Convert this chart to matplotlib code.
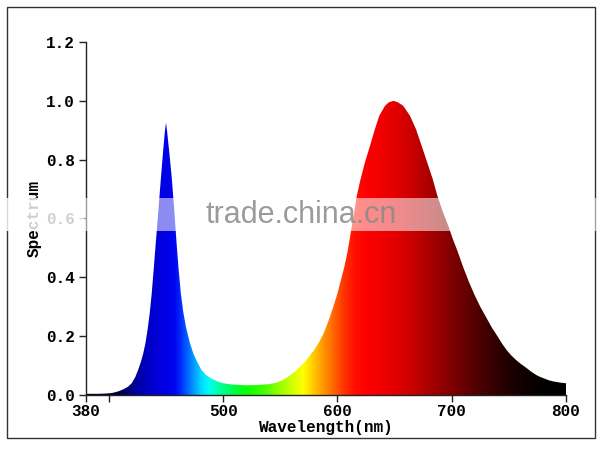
import numpy as np
import matplotlib
matplotlib.use("Agg")
import matplotlib.pyplot as plt
from matplotlib.colors import LinearSegmentedColormap
from matplotlib.patches import Polygon, Rectangle

# ---------------- data ----------------
wavelength = [380, 390, 398, 403, 408, 412, 416.7, 420, 423, 425.6, 428, 430, 432,
              434, 435.8, 437.5, 439.3, 441, 443.3, 445.6, 447.5, 449, 450, 451,
              453, 455, 457.2, 459.3, 461.2, 463, 465, 467.5, 471, 474, 477, 481,
              485, 490, 495, 500, 505, 510, 520, 530, 540, 546, 552, 558, 563,
              567, 572, 576, 580, 584, 588, 592, 596, 600, 603, 606, 609, 612,
              615, 617, 620, 624, 628.5, 632.8, 636.6, 641.6, 645, 649, 653,
              657.6, 663.5, 668.7, 673.7, 678.6, 683.3, 687.4, 692, 697, 701,
              705, 710, 715, 720, 725, 730, 735, 740, 744, 748, 752, 756, 760,
              764, 770, 774, 777, 781, 785, 789, 795, 800]
spectrum = [0.004, 0.004, 0.005, 0.007, 0.012, 0.018, 0.028, 0.040, 0.060, 0.085,
            0.112, 0.140, 0.176, 0.225, 0.28, 0.345, 0.43, 0.514, 0.625, 0.74,
            0.83, 0.895, 0.926, 0.895, 0.82, 0.74, 0.63, 0.514, 0.42, 0.345,
            0.285, 0.23, 0.176, 0.14, 0.115, 0.085, 0.068, 0.055, 0.046, 0.040,
            0.037, 0.035, 0.033, 0.034, 0.037, 0.041, 0.050, 0.065, 0.080,
            0.096, 0.115, 0.135, 0.155, 0.18, 0.21, 0.25, 0.295, 0.345, 0.39,
            0.435, 0.49, 0.56, 0.63, 0.678, 0.73, 0.79, 0.847, 0.904, 0.949,
            0.983, 0.995, 1.0, 0.995, 0.983, 0.949, 0.904, 0.847, 0.79, 0.735,
            0.678, 0.625, 0.575, 0.53, 0.49, 0.435, 0.385, 0.34, 0.30, 0.265,
            0.23, 0.20, 0.175, 0.153, 0.135, 0.12, 0.107, 0.096, 0.078, 0.068,
            0.062, 0.056, 0.050, 0.046, 0.042, 0.040]
xticks = [380, 400, 500, 600, 700, 800]
xticklabels = ["380", "", "500", "600", "700", "800"]
yticks = [0.0, 0.2, 0.4, 0.6, 0.8, 1.0, 1.2]
yticklabels = ["0.0", "0.2", "0.4", "0.6", "0.8", "1.0", "1.2"]
xlabel = "Wavelength(nm)"
ylabel = "Spectrum"
watermark = "trade.china.cn"

# ---------------- style: wavelength colour stops ----------------
color_stops = [
    (380, "#000010"), (400, "#000030"), (410, "#000050"), (420, "#000088"),
    (430, "#0000b8"), (440, "#0000d4"), (450, "#0000e6"), (458, "#0008f2"),
    (463, "#0030ff"), (468, "#0060ff"), (473, "#0090ff"), (478, "#00c0ff"),
    (483, "#00e8ff"), (488, "#00ffee"), (495, "#00ffb0"), (503, "#00ff70"),
    (512, "#00ff30"), (522, "#10ff00"), (535, "#40ff00"), (548, "#90ff00"),
    (560, "#d0ff00"), (570, "#ffff00"), (578, "#ffd000"), (586, "#ffa000"),
    (595, "#ff7000"), (605, "#ff3800"), (615, "#ff1000"), (625, "#ff0000"),
    (640, "#f00000"), (655, "#dd0000"), (670, "#c00000"), (685, "#a00000"),
    (700, "#800000"), (715, "#600000"), (730, "#420000"), (745, "#280000"),
    (760, "#140000"), (775, "#060000"), (790, "#000000"), (800, "#000000"),
]

plt.rcParams["font.family"] = ["Liberation Mono", "DejaVu Sans Mono"]
plt.rcParams["font.weight"] = "bold"

W, H = 602, 450
fig = plt.figure(figsize=(W / 100, H / 100), dpi=100)
fig.patch.set_facecolor("white")
ax = fig.add_axes([86 / W, 55 / H, (566 - 86) / W, (395 - 42) / H])

x0, x1 = 380, 800
cmap = LinearSegmentedColormap.from_list(
    "spec", [((w - x0) / (x1 - x0), c) for w, c in color_stops], N=512)

verts = np.column_stack([np.r_[wavelength[0], wavelength, wavelength[-1]],
                         np.r_[0, spectrum, 0]])
poly = Polygon(verts, closed=True, facecolor="none", edgecolor="none",
               transform=ax.transData)
ax.add_patch(poly)
grad = np.linspace(0, 1, 840).reshape(1, -1)
im = ax.imshow(grad, cmap=cmap, extent=[x0, x1, 0, 1.2], aspect="auto",
               origin="lower", interpolation="bilinear", zorder=1)
im.set_clip_path(poly)

ax.set_xlim(x0, x1)
ax.set_ylim(0, 1.2)
ax.set_xticks(xticks)
ax.set_xticklabels(xticklabels)
ax.set_yticks(yticks)
ax.set_yticklabels(yticklabels)
for s in ["top", "right"]:
    ax.spines[s].set_visible(False)
for s in ["left", "bottom"]:
    ax.spines[s].set_color("#222222")
    ax.spines[s].set_linewidth(1.0)
ax.tick_params(direction="out", length=5, width=1, color="#222222",
               labelsize=11.5, labelcolor="black")
ax.tick_params(axis="x", pad=1.5)
ax.tick_params(axis="y", pad=3)
ax.set_xlabel(xlabel, fontsize=11.5, fontweight="bold", labelpad=1)
ax.set_ylabel(ylabel, fontsize=11.5, fontweight="bold", labelpad=3)

# outer frame
fig.patches.append(Rectangle((7 / W, 12 / H), 588 / W, 431 / H,
                             transform=fig.transFigure, fill=False,
                             edgecolor="#333333", lw=1.0, zorder=0))

# watermark band + text
fig.patches.append(Rectangle((0, (H - 231) / H), 1, 33 / H,
                             transform=fig.transFigure, facecolor="white",
                             edgecolor="none", alpha=0.55, zorder=10))
fig.patches.append(Rectangle((0, (H - 231) / H), 84 / W, 33 / H,
                             transform=fig.transFigure, facecolor="white",
                             edgecolor="none", alpha=0.6, zorder=10))
fig.text(301 / W, (H - 215) / H, watermark, ha="center", va="center",
         fontsize=22, color="#8a8a8a", alpha=0.85, fontweight="normal",
         family=["Liberation Sans", "DejaVu Sans"], zorder=11)

fig.savefig("out.png", dpi=100, facecolor="white")
